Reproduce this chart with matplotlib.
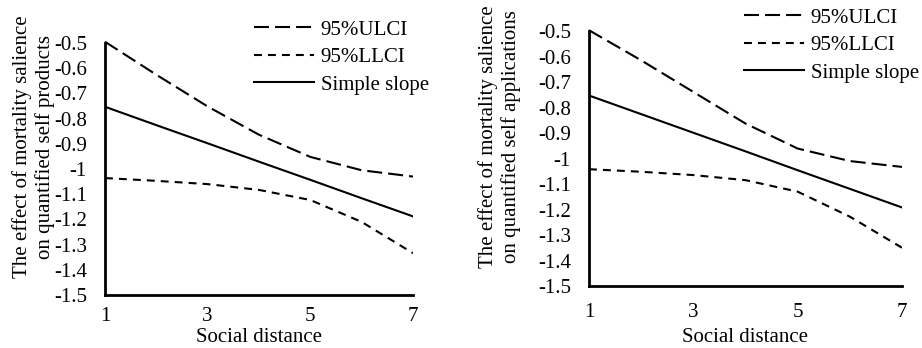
import matplotlib
matplotlib.use("Agg")
import matplotlib.pyplot as plt
from matplotlib.lines import Line2D

plt.rcParams["font.family"] = "Liberation Serif"

# ---------- data ----------
distance = [1, 2, 3, 4, 5, 6, 7]

prod_ulci = [-0.495, -0.626, -0.752, -0.864, -0.952, -1.005, -1.030]
prod_llci = [-1.036, -1.047, -1.060, -1.083, -1.123, -1.210, -1.334]
prod_slope = [-0.753, -0.826, -0.898, -0.971, -1.043, -1.116, -1.188]

app_ulci = [-0.497, -0.615, -0.739, -0.863, -0.961, -1.010, -1.033]
app_llci = [-1.042, -1.052, -1.065, -1.085, -1.130, -1.228, -1.350]
app_slope = [-0.753, -0.826, -0.899, -0.972, -1.046, -1.119, -1.192]

x_ticks = [1, 3, 5, 7]
y_ticks = [-0.5, -0.6, -0.7, -0.8, -0.9, -1.0, -1.1, -1.2, -1.3, -1.4, -1.5]
series_labels = ["95%ULCI", "95%LLCI", "Simple slope"]
ylabels = ["The effect of mortality salience\non quantified self products",
           "The effect of mortality salience\non quantified self applications"]
xlabel = "Social distance"

W, H = 922, 348
FS = 15
LW = 1.5
dash_long = (7.2, 2.9)
dash_short = (3.8, 2.9)

fig = plt.figure(figsize=(W / 100, H / 100), dpi=100)


def px_axes(l, t, r, b):
    return fig.add_axes([l / W, 1 - b / H, (r - l) / W, (b - t) / H])


panels = [
    dict(box=(105, 43, 413, 295), data=(prod_ulci, prod_llci, prod_slope),
         ylab_x=(20, 47), ylab_y=147, leg=(254, 20), xlab_y=338, xpad=8.5),
    dict(box=(589, 31, 902, 286), data=(app_ulci, app_llci, app_slope),
         ylab_x=(486, 513), ylab_y=137, leg=(744, 8), xlab_y=337, xpad=12),
]

for p, ylab in zip(panels, ylabels):
    ax = px_axes(*p["box"])
    ulci, llci, slope = p["data"]
    ax.plot(distance, ulci, color="black", lw=LW, dashes=dash_long, clip_on=False)
    ax.plot(distance, llci, color="black", lw=LW, dashes=dash_short)
    ax.plot(distance, slope, color="black", lw=LW)

    ax.set_xlim(1, 7)
    ax.set_ylim(-1.5, -0.5)
    ax.set_xticks(x_ticks)
    ax.set_xticklabels([str(v) for v in x_ticks])
    ax.set_yticks(y_ticks)
    ax.set_yticklabels([f"{v:g}" for v in y_ticks])
    ax.tick_params(length=0, labelsize=FS)
    ax.tick_params(axis="x", pad=p["xpad"])
    ax.tick_params(axis="y", pad=13)
    for s in ["top", "right"]:
        ax.spines[s].set_visible(False)
    for s in ["left", "bottom"]:
        ax.spines[s].set_linewidth(2.0)
        ax.spines[s].set_color("black")

    l, t, r, b = p["box"]
    fig.text((l + r) / 2 / W, 1 - p["xlab_y"] / H, xlabel, ha="center", va="center",
             fontsize=FS)
    fig.text((p["ylab_x"][0] + p["ylab_x"][1]) / 2 / W, 1 - p["ylab_y"] / H, ylab,
             rotation=90, ha="center", va="center", fontsize=FS,
             multialignment="center", linespacing=1.15)

    handles = [Line2D([], [], color="black", lw=LW, dashes=dash_long),
               Line2D([], [], color="black", lw=LW, dashes=dash_short),
               Line2D([], [], color="black", lw=LW)]
    lx, ly = p["leg"]
    fig.legend(handles, series_labels, loc="upper left",
               bbox_to_anchor=(lx / W, 1 - ly / H), frameon=False,
               fontsize=FS, handlelength=2.9, handletextpad=0.3,
               labelspacing=0.38, borderpad=0, borderaxespad=0)

fig.savefig("out.png", dpi=100)
